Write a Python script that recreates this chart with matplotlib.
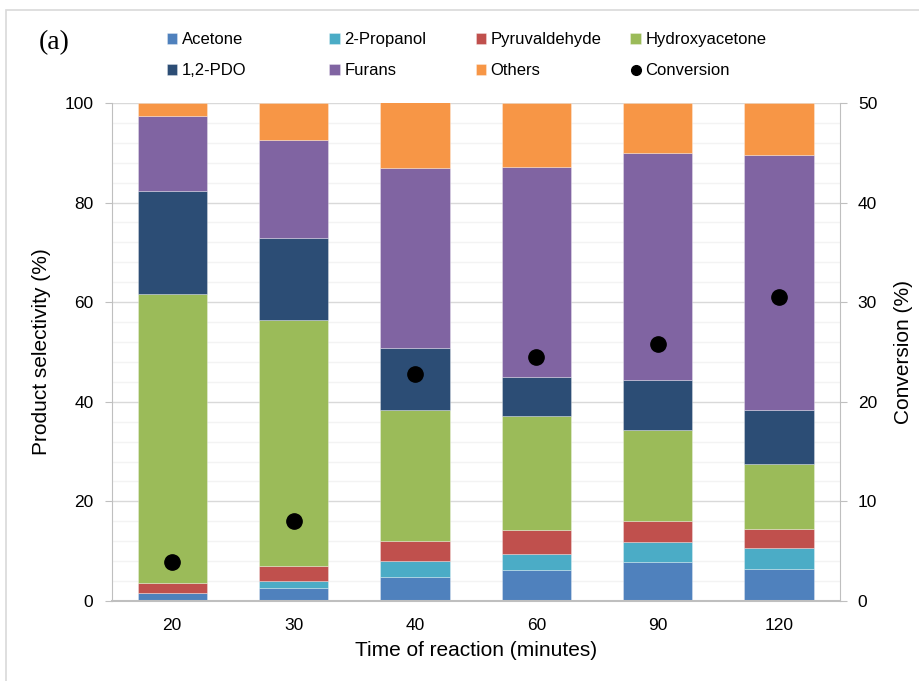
import numpy as np
import matplotlib
matplotlib.use("Agg")
import matplotlib.pyplot as plt
from matplotlib.patches import Rectangle
from matplotlib.lines import Line2D

plt.rcParams['font.family'] = ['Liberation Sans', 'DejaVu Sans']

# data
times = ['20', '30', '40', '60', '90', '120']
acetone = [1.7, 2.7, 4.8, 6.2, 7.8, 6.4]
propanol = [0.0, 1.3, 3.3, 3.3, 4.0, 4.2]
pyruvaldehyde = [2.0, 3.0, 3.9, 4.8, 4.3, 3.9]
hydroxyacetone = [57.9, 49.4, 26.4, 22.9, 18.2, 13.1]
pdo = [20.8, 16.4, 12.4, 7.8, 10.1, 10.8]
furans = [14.9, 19.8, 36.1, 42.1, 45.5, 51.2]
others = [2.7, 7.4, 13.2, 12.9, 10.1, 10.4]
conversion = [3.9, 8.0, 22.8, 24.5, 25.8, 30.5]

series = [
    ('Acetone', acetone, '#4F81BD'),
    ('2-Propanol', propanol, '#4BACC6'),
    ('Pyruvaldehyde', pyruvaldehyde, '#C0504D'),
    ('Hydroxyacetone', hydroxyacetone, '#9BBB59'),
    ('1,2-PDO', pdo, '#2C4D75'),
    ('Furans', furans, '#8064A2'),
    ('Others', others, '#F79646'),
]

fig = plt.figure(figsize=(9.2, 6.81), dpi=100)
ax = fig.add_axes([0.1212, 0.1175, 0.7916, 0.7313])

x = np.arange(len(times))
bottom = np.zeros(len(times))
handles = {}
for name, vals, col in series:
    b = ax.bar(x, vals, width=0.57, bottom=bottom, color=col,
               edgecolor=(1, 1, 1, 0.35), linewidth=0.6, label=name, zorder=2)
    handles[name] = b
    bottom += np.array(vals)

ax.set_xlim(-0.5, len(times) - 0.5)
ax.set_ylim(0, 100)
ax.set_yticks(np.arange(0, 101, 20))
ax.set_yticks(np.arange(0, 101, 4), minor=True)
ax.set_xticks(x)
ax.set_xticklabels(times)
ax.grid(axis='y', which='major', color='#d9d9d9', lw=1.0, zorder=0)
ax.grid(axis='y', which='minor', color='#f3f3f3', lw=1.0, zorder=0)
ax.set_axisbelow(True)
ax.tick_params(axis='y', which='major', length=5, color='#bfbfbf', labelsize=12.5, pad=8)
ax.tick_params(axis='y', which='minor', length=0)
ax.tick_params(axis='x', length=0, labelsize=12.5, pad=12)
for s in ['top', 'right']:
    ax.spines[s].set_visible(False)
ax.spines['left'].set_color('#bfbfbf')
ax.spines['bottom'].set_color('#bfbfbf')
ax.spines['bottom'].set_linewidth(1.5)
ax.set_ylabel('Product selectivity (%)', fontsize=15, labelpad=10)
ax.set_xlabel('Time of reaction (minutes)', fontsize=15, labelpad=6)

ax2 = ax.twinx()
ax2.set_ylim(0, 50)
ax2.set_yticks(np.arange(0, 51, 10))
conv, = ax2.plot(x, conversion, 'o', color='black', ms=11, ls='none',
                 label='Conversion', zorder=5)
for s in ['top', 'left', 'bottom']:
    ax2.spines[s].set_visible(False)
ax2.spines['right'].set_color('#bfbfbf')
ax2.tick_params(axis='y', length=5, color='#bfbfbf', labelsize=12.5, pad=8)
ax2.set_ylabel('Conversion (%)', fontsize=15, labelpad=12)

# legend: four columns placed by hand to mimic the spacing
cols = [
    (0.181, ['Acetone', '1,2-PDO']),
    (0.358, ['2-Propanol', 'Furans']),
    (0.517, ['Pyruvaldehyde', 'Others']),
    (0.685, ['Hydroxyacetone', 'Conversion']),
]
for xpos, names in cols:
    hs = []
    for n in names:
        if n == 'Conversion':
            hs.append(Line2D([], [], marker='o', color='black', ls='none', ms=7))
        else:
            hs.append(handles[n])
    fig.legend(hs, names, loc='upper left', bbox_to_anchor=(xpos, 0.953),
               frameon=False, fontsize=12, handlelength=0.65, handleheight=0.65,
               handletextpad=0.25, labelspacing=0.98, borderaxespad=0, borderpad=0)

fig.text(0.042, 0.938, '(a)', fontsize=20, family='Liberation Serif', va='center')

fig.patches.append(Rectangle((6 / 920, -0.1), 1.2, 1 - 10 / 681 + 0.1,
                             transform=fig.transFigure, fill=False,
                             edgecolor='#d9d9d9', lw=1.2))

fig.savefig('out.png', dpi=100)
